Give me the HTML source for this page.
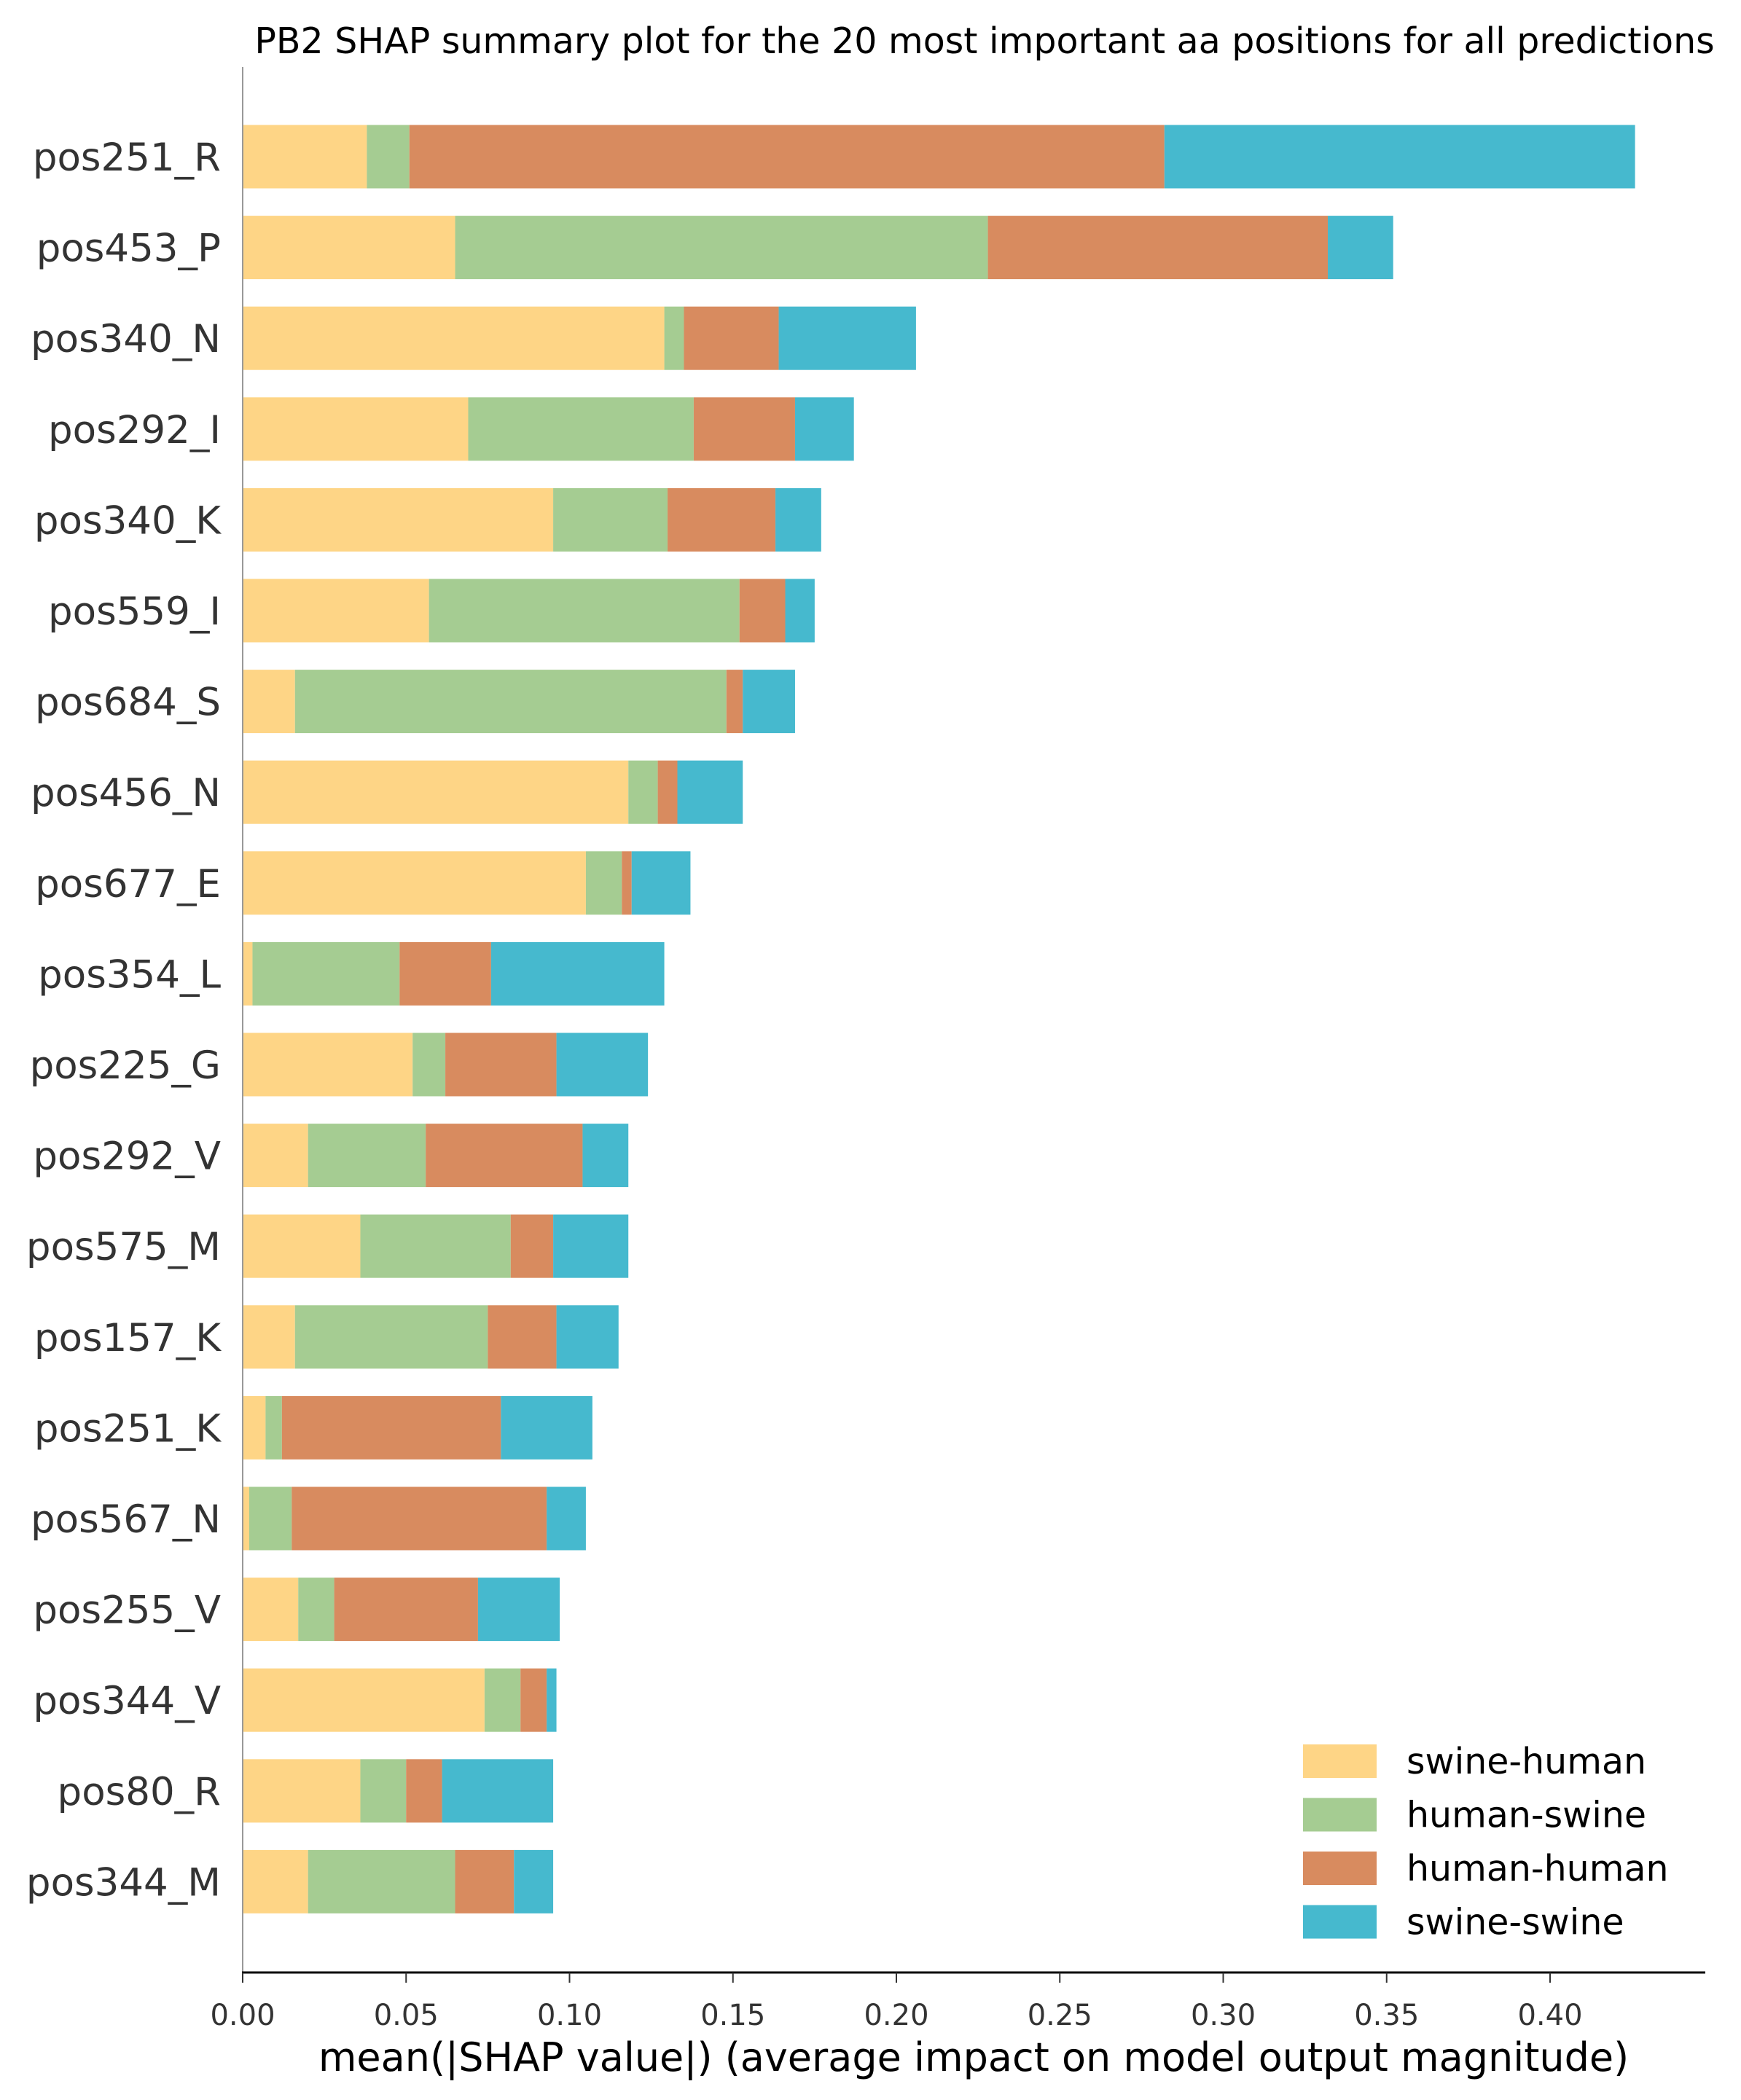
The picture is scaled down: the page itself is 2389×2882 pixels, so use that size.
<!DOCTYPE html>
<html><head><meta charset="utf-8"><style>html,body{margin:0;padding:0;background:#fff}svg{display:block}</style></head>
<body>
<svg id="chart" width="2389" height="2882" xmlns="http://www.w3.org/2000/svg" font-family="DejaVu Sans, Liberation Sans, sans-serif">
<text x="1351" y="73" font-size="49" text-anchor="middle" fill="#000">PB2 SHAP summary plot for the 20 most important aa positions for all predictions</text>
<g id="bars"></g>
<g id="yaxis"></g>
<g id="xaxis"></g>
<text x="1336" y="2842" font-size="54" text-anchor="middle" fill="#000">mean(|SHAP value|) (average impact on model output magnitude)</text>
<g id="legend"></g>
</svg>
<script>
const categories = ["pos251_R","pos453_P","pos340_N","pos292_I","pos340_K","pos559_I","pos684_S","pos456_N","pos677_E","pos354_L","pos225_G","pos292_V","pos575_M","pos157_K","pos251_K","pos567_N","pos255_V","pos344_V","pos80_R","pos344_M"];
const seriesNames = ["swine-human","human-swine","human-human","swine-swine"];
const swineHuman = [0.038,0.065,0.129,0.069,0.095,0.057,0.016,0.118,0.105,0.003,0.052,0.020,0.036,0.016,0.007,0.002,0.017,0.074,0.036,0.020];
const humanSwine = [0.013,0.163,0.006,0.069,0.035,0.095,0.132,0.009,0.011,0.045,0.010,0.036,0.046,0.059,0.005,0.013,0.011,0.011,0.014,0.045];
const humanHuman = [0.231,0.104,0.029,0.031,0.033,0.014,0.005,0.006,0.003,0.028,0.034,0.048,0.013,0.021,0.067,0.078,0.044,0.008,0.011,0.018];
const swineSwine = [0.144,0.020,0.042,0.018,0.014,0.009,0.016,0.020,0.018,0.053,0.028,0.014,0.023,0.019,0.028,0.012,0.025,0.003,0.034,0.012];
const xTicks = [0,0.05,0.10,0.15,0.20,0.25,0.30,0.35,0.40];
const xTickLabels = ["0.00","0.05","0.10","0.15","0.20","0.25","0.30","0.35","0.40"];

const colors = ["#FED586","#A5CC92","#D88B5F","#46B9CE"];
const series = [swineHuman, humanSwine, humanHuman, swineSwine];
const NS = "http://www.w3.org/2000/svg";
const X0 = 333, PX = 4485, Y0 = 215, STEP = 124.6, BH = 87;
const xs = v => X0 + v * PX;
const ys = i => Y0 + i * STEP;
function mk(tag, attrs, parent){const e=document.createElementNS(NS,tag);for(const k in attrs)e.setAttribute(k,attrs[k]);parent.appendChild(e);return e;}
const bars=document.getElementById('bars'), yax=document.getElementById('yaxis'), xax=document.getElementById('xaxis'), leg=document.getElementById('legend');

categories.forEach((c,i)=>{
  let acc=0;
  series.forEach((s,k)=>{
    const r=mk('rect',{x:xs(acc),y:ys(i)-BH/2,width:s[i]*PX,height:BH,fill:colors[k]},bars);
    
    
    acc+=s[i];
  });
  const t=mk('text',{x:303,y:ys(i)+19,'font-size':53,'text-anchor':'end',fill:'#333'},yax);
  t.textContent=c;
  
  
});
const sp=mk('line',{x1:X0,y1:92,x2:X0,y2:2707,stroke:'#999','stroke-width':2},yax);


const bx=mk('line',{x1:X0-1,y1:2707,x2:2340,y2:2707,stroke:'#000','stroke-width':3},xax);


xTicks.forEach((v,j)=>{
  const tk=mk('line',{x1:xs(v),y1:2707,x2:xs(v),y2:2721,stroke:'#333','stroke-width':2},xax);
  
  
  const tl=mk('text',{x:xs(v),y:2779,'font-size':40,'text-anchor':'middle',fill:'#333'},xax);
  tl.textContent=xTickLabels[j];
  
  
});
seriesNames.forEach((n,k)=>{
  const cy=2417+k*73.5;
  const p=mk('rect',{x:1788,y:cy-23,width:101,height:46,fill:colors[k]},leg);
  
  
  const t=mk('text',{x:1930,y:cy+17,'font-size':49,fill:'#000'},leg);
  t.textContent=n;
  
  
});
</script>
</body></html>
